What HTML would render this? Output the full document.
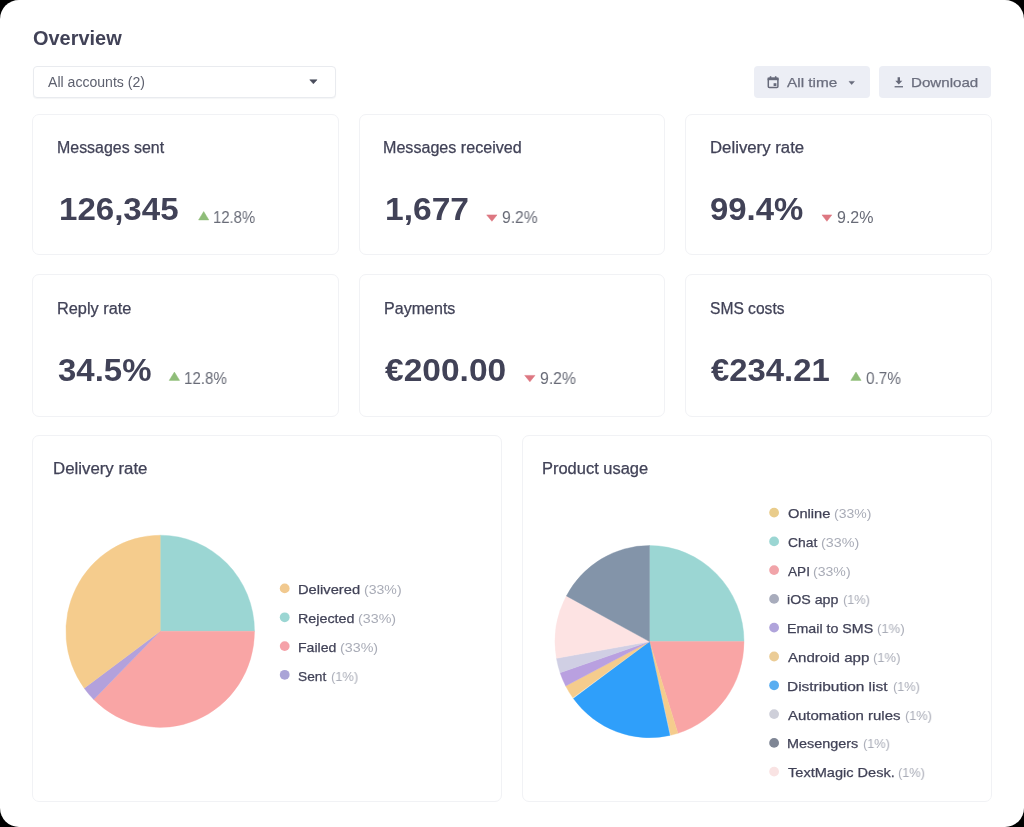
<!DOCTYPE html>
<html lang="en"><head><meta charset="utf-8"><title>Overview</title>
<style>
html,body{margin:0;padding:0;background:#000;}
body{width:1024px;height:827px;overflow:hidden;font-family:"Liberation Sans",Arial,sans-serif;}
.page{position:absolute;left:0;top:0;width:1024px;height:827px;background:#fff;border-radius:19px;overflow:hidden;}
.card{position:absolute;box-sizing:border-box;background:#fff;border:1px solid #f1f2f5;border-radius:7px;}
.sel{position:absolute;box-sizing:border-box;left:33px;top:66px;width:303px;height:32px;background:#fff;border:1px solid #e9ebef;border-radius:4px;box-shadow:0 1px 1px rgba(40,50,80,.05);}
.btn{position:absolute;box-sizing:border-box;top:66px;height:32px;background:#eceef5;border-radius:4px;}
.t{position:absolute;white-space:nowrap;line-height:1;transform-origin:0 0;margin:0;padding:0;will-change:transform;}
svg.ov{position:absolute;left:0;top:0;width:1024px;height:827px;pointer-events:none;}
</style></head><body>
<div class="page">
<div class="card" style="left:32.00px;top:114.00px;width:306.67px;height:141.00px"></div>
<div class="card" style="left:358.67px;top:114.00px;width:306.67px;height:141.00px"></div>
<div class="card" style="left:685.33px;top:114.00px;width:306.67px;height:141.00px"></div>
<div class="card" style="left:32.00px;top:274.00px;width:306.67px;height:142.50px"></div>
<div class="card" style="left:358.67px;top:274.00px;width:306.67px;height:142.50px"></div>
<div class="card" style="left:685.33px;top:274.00px;width:306.67px;height:142.50px"></div>
<div class="card" style="left:32.00px;top:435.00px;width:470.00px;height:367.00px"></div>
<div class="card" style="left:522.00px;top:435.00px;width:470.00px;height:367.00px"></div>
<div class="sel"></div>
<div class="btn" style="left:754px;width:116px"></div>
<div class="btn" style="left:879px;width:112px"></div>
<svg class="ov" viewBox="0 0 1024 827"><path d="M160.20 631.30 L160.20 535.20 A94.30 96.10 0 0 1 254.50 631.30 Z" fill="#9bd6d3" stroke="#9bd6d3" stroke-width="0.4"/><path d="M160.20 631.30 L254.50 631.30 A94.30 96.10 0 0 1 93.70 699.44 Z" fill="#f9a5a5" stroke="#f9a5a5" stroke-width="0.4"/><path d="M160.20 631.30 L93.70 699.44 A94.30 96.10 0 0 1 84.18 688.17 Z" fill="#b3a1dc" stroke="#b3a1dc" stroke-width="0.4"/><path d="M160.20 631.30 L84.18 688.17 A94.30 96.10 0 0 1 160.20 535.20 Z" fill="#f5cc8d" stroke="#f5cc8d" stroke-width="0.4"/><path d="M649.50 641.60 L649.50 545.50 A94.50 96.10 0 0 1 744.00 641.60 Z" fill="#9bd6d3" stroke="#9bd6d3" stroke-width="0.4"/><path d="M649.50 641.60 L744.00 641.60 A94.50 96.10 0 0 1 677.88 733.27 Z" fill="#f9a5a5" stroke="#f9a5a5" stroke-width="0.4"/><path d="M649.50 641.60 L677.88 733.27 A94.50 96.10 0 0 1 670.61 735.27 Z" fill="#f5cc8d" stroke="#f5cc8d" stroke-width="0.4"/><path d="M649.50 641.60 L669.96 735.42 A94.50 96.10 0 0 1 573.38 698.55 Z" fill="#2f9ffa" stroke="#2f9ffa" stroke-width="0.4"/><path d="M649.50 641.60 L572.90 697.87 A94.50 96.10 0 0 1 565.68 685.98 Z" fill="#f5cc8d" stroke="#f5cc8d" stroke-width="0.4"/><path d="M649.50 641.60 L565.68 685.98 A94.50 96.10 0 0 1 560.10 672.73 Z" fill="#b9a0e0" stroke="#b9a0e0" stroke-width="0.4"/><path d="M649.50 641.60 L560.10 672.73 A94.50 96.10 0 0 1 556.45 658.34 Z" fill="#d0cfe4" stroke="#d0cfe4" stroke-width="0.4"/><path d="M649.50 641.60 L556.45 658.34 A94.50 96.10 0 0 1 566.37 595.90 Z" fill="#fde3e3" stroke="#fde3e3" stroke-width="0.4"/><path d="M649.50 641.60 L566.37 595.90 A94.50 96.10 0 0 1 649.50 545.50 Z" fill="#8394a9" stroke="#8394a9" stroke-width="0.4"/><circle cx="284.7" cy="588.4" r="4.9" fill="#f1c98f"/><circle cx="284.7" cy="617.3" r="4.9" fill="#9bd6d3"/><circle cx="284.7" cy="646.1" r="4.9" fill="#f5a2a9"/><circle cx="284.7" cy="674.8" r="4.9" fill="#aaa4d7"/><circle cx="774.1" cy="512.6" r="4.9" fill="#e9cc8b"/><circle cx="774.1" cy="541.4" r="4.9" fill="#9bd6d3"/><circle cx="774.1" cy="570.1" r="4.9" fill="#f1a4a9"/><circle cx="774.1" cy="598.9" r="4.9" fill="#a8acbc"/><circle cx="774.1" cy="627.6" r="4.9" fill="#b0a4db"/><circle cx="774.1" cy="656.5" r="4.9" fill="#ebcc96"/><circle cx="774.1" cy="685.3" r="4.9" fill="#5aaef1"/><circle cx="774.1" cy="714.1" r="4.9" fill="#cecfd9"/><circle cx="774.1" cy="742.9" r="4.9" fill="#7f8695"/><circle cx="774.1" cy="771.6" r="4.9" fill="#f9e3e3"/><polygon points="198.6,219.9 208.8,219.9 203.7,211.6" fill="#8fbd79" stroke="#8fbd79" stroke-width="0.5" stroke-linejoin="round"/><polygon points="486.7,214.9 497.0,214.9 491.9,221.3" fill="#dd7781" stroke="#dd7781" stroke-width="0.5" stroke-linejoin="round"/><polygon points="822.0,214.9 831.8,214.9 826.9,221.3" fill="#dd7781" stroke="#dd7781" stroke-width="0.5" stroke-linejoin="round"/><polygon points="169.2,380.4 179.6,380.4 174.4,372.1" fill="#8fbd79" stroke="#8fbd79" stroke-width="0.5" stroke-linejoin="round"/><polygon points="524.7,375.4 535.0,375.4 529.9,381.8" fill="#dd7781" stroke="#dd7781" stroke-width="0.5" stroke-linejoin="round"/><polygon points="850.8,380.4 861.1,380.4 856.0,372.1" fill="#8fbd79" stroke="#8fbd79" stroke-width="0.5" stroke-linejoin="round"/><polygon points="309.8,79.8 317,79.8 313.4,83.8" fill="#4a4d5c" stroke="#4a4d5c" stroke-width="0.6" stroke-linejoin="round"/><polygon points="849,81.4 854.4,81.4 851.7,84.6" fill="#676a7a" stroke="#676a7a" stroke-width="0.5" stroke-linejoin="round"/><g fill="none" stroke="#676a7a" stroke-width="1.5"><rect x="768.3" y="78.3" width="9.6" height="9.2" rx="1"/></g><rect x="767.6" y="77.6" width="11" height="2.6" fill="#676a7a"/><rect x="769.8" y="76.2" width="1.5" height="2.4" fill="#676a7a"/><rect x="774.9" y="76.2" width="1.5" height="2.4" fill="#676a7a"/><rect x="773.6" y="83.2" width="2.8" height="2.8" fill="#676a7a"/><path d="M897.6 77.3 h2.4 v3.5 h2.3 l-3.5 3.7 l-3.5 -3.7 h2.3 z" fill="#676a7a"/><rect x="894.6" y="86.1" width="8.4" height="1.3" fill="#676a7a"/></svg>
<span class="t" id="title" style="left:33.00px;top:29.00px;font-size:19.30px;font-weight:700;color:#414257;transform:scaleX(1.0341)">Overview</span>
<span class="t" id="sel" style="left:48.00px;top:75.00px;font-size:14.00px;font-weight:400;color:#5d606e;transform:scaleX(1.0052)">All accounts (2)</span>
<span class="t" id="b1" style="left:787.00px;top:76.25px;font-size:13.50px;font-weight:400;color:#6a6d7d;-webkit-text-stroke:0.25px #6a6d7d;transform:scaleX(1.1364)">All time</span>
<span class="t" id="b2" style="left:911.00px;top:76.25px;font-size:13.50px;font-weight:400;color:#6a6d7d;-webkit-text-stroke:0.25px #6a6d7d;transform:scaleX(1.1202)">Download</span>
<span class="t" id="l1" style="left:57.00px;top:140.00px;font-size:15.60px;font-weight:400;color:#414257;-webkit-text-stroke:0.25px #414257;transform:scaleX(1.0216)">Messages sent</span>
<span class="t" id="l2" style="left:383.00px;top:140.00px;font-size:15.60px;font-weight:400;color:#414257;-webkit-text-stroke:0.25px #414257;transform:scaleX(1.0321)">Messages received</span>
<span class="t" id="l3" style="left:710.00px;top:140.00px;font-size:15.60px;font-weight:400;color:#414257;-webkit-text-stroke:0.25px #414257;transform:scaleX(1.0756)">Delivery rate</span>
<span class="t" id="l4" style="left:57.00px;top:301.25px;font-size:15.60px;font-weight:400;color:#414257;-webkit-text-stroke:0.25px #414257;transform:scaleX(1.0468)">Reply rate</span>
<span class="t" id="l5" style="left:384.00px;top:301.25px;font-size:15.60px;font-weight:400;color:#414257;-webkit-text-stroke:0.25px #414257;transform:scaleX(1.0294)">Payments</span>
<span class="t" id="l6" style="left:710.00px;top:301.25px;font-size:15.60px;font-weight:400;color:#414257;-webkit-text-stroke:0.25px #414257;transform:scaleX(1.0000)">SMS costs</span>
<span class="t" id="n1" style="left:59.00px;top:193.00px;font-size:32.00px;font-weight:700;color:#414257;transform:scaleX(1.0333)">126,345</span>
<span class="t" id="n2" style="left:385.00px;top:193.00px;font-size:32.00px;font-weight:700;color:#414257;transform:scaleX(1.0489)">1,677</span>
<span class="t" id="n3" style="left:710.00px;top:193.00px;font-size:32.00px;font-weight:700;color:#414257;transform:scaleX(1.0281)">99.4%</span>
<span class="t" id="n4" style="left:58.00px;top:354.00px;font-size:32.00px;font-weight:700;color:#414257;transform:scaleX(1.0297)">34.5%</span>
<span class="t" id="n5" style="left:385.00px;top:354.00px;font-size:32.00px;font-weight:700;color:#414257;transform:scaleX(1.0481)">€200.00</span>
<span class="t" id="n6" style="left:711.00px;top:354.00px;font-size:32.00px;font-weight:700;color:#414257;transform:scaleX(1.0261)">€234.21</span>
<span class="t" id="p1" style="left:213.00px;top:210.00px;font-size:16.00px;font-weight:400;color:#686b77;transform:scaleX(0.9258)">12.8%</span>
<span class="t" id="p2" style="left:502.00px;top:210.00px;font-size:16.00px;font-weight:400;color:#686b77;transform:scaleX(0.9788)">9.2%</span>
<span class="t" id="p3" style="left:837.00px;top:210.00px;font-size:16.00px;font-weight:400;color:#686b77;transform:scaleX(0.9929)">9.2%</span>
<span class="t" id="p4" style="left:184.00px;top:371.00px;font-size:16.00px;font-weight:400;color:#686b77;transform:scaleX(0.9426)">12.8%</span>
<span class="t" id="p5" style="left:540.00px;top:371.00px;font-size:16.00px;font-weight:400;color:#686b77;transform:scaleX(0.9859)">9.2%</span>
<span class="t" id="p6" style="left:866.00px;top:371.00px;font-size:16.00px;font-weight:400;color:#686b77;transform:scaleX(0.9575)">0.7%</span>
<span class="t" id="c1" style="left:53.00px;top:461.00px;font-size:15.60px;font-weight:400;color:#414257;-webkit-text-stroke:0.25px #414257;transform:scaleX(1.0787)">Delivery rate</span>
<span class="t" id="c2" style="left:542.00px;top:461.00px;font-size:15.60px;font-weight:400;color:#414257;-webkit-text-stroke:0.25px #414257;transform:scaleX(1.0556)">Product usage</span>
<span class="t" id="g1_0" style="left:298.00px;top:583.00px;font-size:13.60px;font-weight:400;color:#414257;-webkit-text-stroke:0.25px #414257;transform:scaleX(1.0807)">Delivered</span>
<span class="t" id="g1p_0" style="left:364.00px;top:583.00px;font-size:13.60px;font-weight:400;color:#a9acb7;transform:scaleX(1.0363)">(33%)</span>
<span class="t" id="g1_1" style="left:298.00px;top:612.00px;font-size:13.60px;font-weight:400;color:#414257;-webkit-text-stroke:0.25px #414257;transform:scaleX(1.0529)">Rejected</span>
<span class="t" id="g1p_1" style="left:358.00px;top:612.00px;font-size:13.60px;font-weight:400;color:#a9acb7;transform:scaleX(1.0508)">(33%)</span>
<span class="t" id="g1_2" style="left:298.00px;top:640.75px;font-size:13.60px;font-weight:400;color:#414257;-webkit-text-stroke:0.25px #414257;transform:scaleX(1.0353)">Failed</span>
<span class="t" id="g1p_2" style="left:340.00px;top:641.00px;font-size:13.60px;font-weight:400;color:#a9acb7;transform:scaleX(1.0504)">(33%)</span>
<span class="t" id="g1_3" style="left:298.00px;top:670.00px;font-size:13.60px;font-weight:400;color:#414257;-webkit-text-stroke:0.25px #414257;transform:scaleX(1.0092)">Sent</span>
<span class="t" id="g1p_3" style="left:331.00px;top:670.25px;font-size:13.60px;font-weight:400;color:#a9acb7;transform:scaleX(0.9446)">(1%)</span>
<span class="t" id="g2_0" style="left:788.00px;top:506.75px;font-size:13.60px;font-weight:400;color:#414257;-webkit-text-stroke:0.25px #414257;transform:scaleX(1.0780)">Online</span>
<span class="t" id="g2p_0" style="left:834.00px;top:507.00px;font-size:13.60px;font-weight:400;color:#a9acb7;transform:scaleX(1.0291)">(33%)</span>
<span class="t" id="g2_1" style="left:788.00px;top:536.00px;font-size:13.60px;font-weight:400;color:#414257;-webkit-text-stroke:0.25px #414257;transform:scaleX(1.0180)">Chat</span>
<span class="t" id="g2p_1" style="left:821.00px;top:536.00px;font-size:13.60px;font-weight:400;color:#a9acb7;transform:scaleX(1.0533)">(33%)</span>
<span class="t" id="g2_2" style="left:788.00px;top:565.00px;font-size:13.60px;font-weight:400;color:#414257;-webkit-text-stroke:0.25px #414257;transform:scaleX(1.0002)">API</span>
<span class="t" id="g2p_2" style="left:813.00px;top:565.00px;font-size:13.60px;font-weight:400;color:#a9acb7;transform:scaleX(1.0363)">(33%)</span>
<span class="t" id="g2_3" style="left:787.00px;top:593.25px;font-size:13.60px;font-weight:400;color:#414257;-webkit-text-stroke:0.25px #414257;transform:scaleX(1.0469)">iOS app</span>
<span class="t" id="g2p_3" style="left:843.00px;top:593.00px;font-size:13.60px;font-weight:400;color:#a9acb7;transform:scaleX(0.9353)">(1%)</span>
<span class="t" id="g2_4" style="left:787.00px;top:622.25px;font-size:13.60px;font-weight:400;color:#414257;-webkit-text-stroke:0.25px #414257;transform:scaleX(1.0463)">Email to SMS</span>
<span class="t" id="g2p_4" style="left:877.00px;top:621.75px;font-size:13.60px;font-weight:400;color:#a9acb7;transform:scaleX(0.9630)">(1%)</span>
<span class="t" id="g2_5" style="left:788.00px;top:651.00px;font-size:13.60px;font-weight:400;color:#414257;-webkit-text-stroke:0.25px #414257;transform:scaleX(1.1096)">Android app</span>
<span class="t" id="g2p_5" style="left:873.00px;top:651.00px;font-size:13.60px;font-weight:400;color:#a9acb7;transform:scaleX(0.9538)">(1%)</span>
<span class="t" id="g2_6" style="left:787.00px;top:679.75px;font-size:13.60px;font-weight:400;color:#414257;-webkit-text-stroke:0.25px #414257;transform:scaleX(1.1372)">Distribution list</span>
<span class="t" id="g2p_6" style="left:893.00px;top:680.00px;font-size:13.60px;font-weight:400;color:#a9acb7;transform:scaleX(0.9353)">(1%)</span>
<span class="t" id="g2_7" style="left:788.00px;top:709.00px;font-size:13.60px;font-weight:400;color:#414257;-webkit-text-stroke:0.25px #414257;transform:scaleX(1.1032)">Automation rules</span>
<span class="t" id="g2p_7" style="left:905.00px;top:709.00px;font-size:13.60px;font-weight:400;color:#a9acb7;transform:scaleX(0.9353)">(1%)</span>
<span class="t" id="g2_8" style="left:787.00px;top:737.25px;font-size:13.60px;font-weight:400;color:#414257;-webkit-text-stroke:0.25px #414257;transform:scaleX(1.0606)">Mesengers</span>
<span class="t" id="g2p_8" style="left:863.00px;top:737.00px;font-size:13.60px;font-weight:400;color:#a9acb7;transform:scaleX(0.9353)">(1%)</span>
<span class="t" id="g2_9" style="left:788.00px;top:766.00px;font-size:13.60px;font-weight:400;color:#414257;-webkit-text-stroke:0.25px #414257;transform:scaleX(1.0711)">TextMagic Desk.</span>
<span class="t" id="g2p_9" style="left:898.00px;top:766.00px;font-size:13.60px;font-weight:400;color:#a9acb7;transform:scaleX(0.9353)">(1%)</span>
</div>
</body></html>
